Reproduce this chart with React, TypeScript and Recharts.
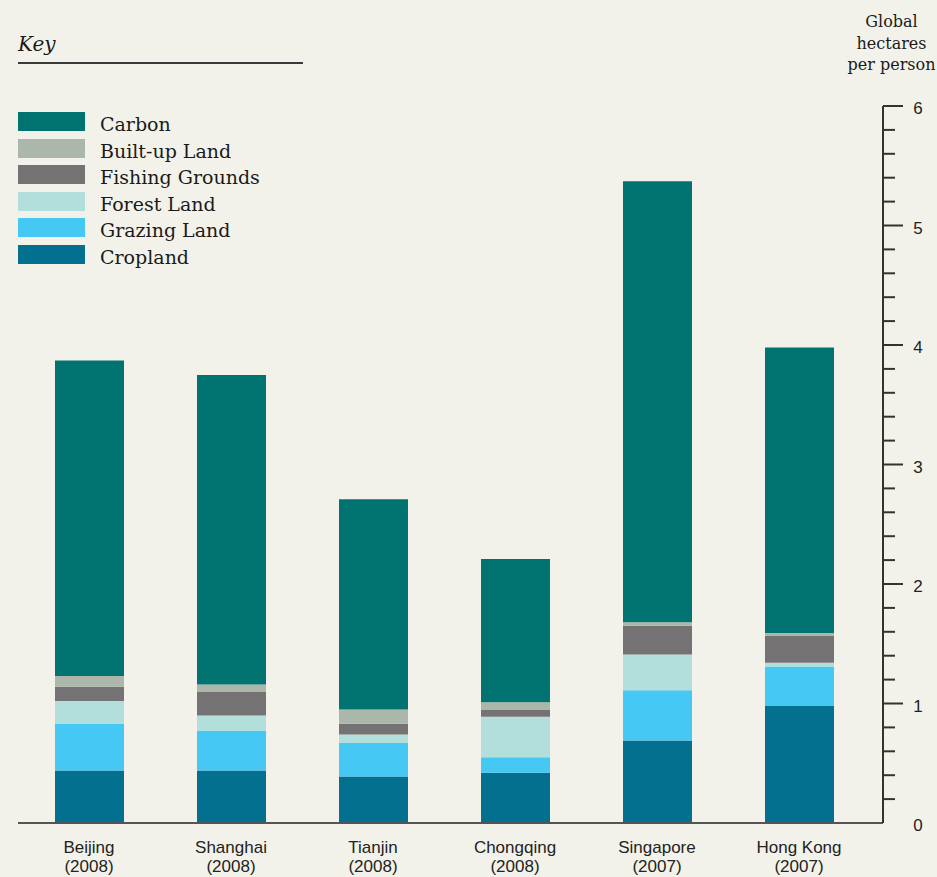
import React from 'react';
import { BarChart, Bar, XAxis, YAxis, Legend } from 'recharts';

const cities = ['Beijing', 'Shanghai', 'Tianjin', 'Chongqing', 'Singapore', 'Hong Kong'];
const years = ['(2008)', '(2008)', '(2008)', '(2008)', '(2007)', '(2007)'];

// global hectares per person, stacked bottom to top
const cropland = [0.44, 0.44, 0.39, 0.42, 0.69, 0.98];
const grazingLand = [0.39, 0.33, 0.28, 0.13, 0.42, 0.33];
const forestLand = [0.19, 0.13, 0.07, 0.34, 0.30, 0.03];
const fishingGrounds = [0.12, 0.20, 0.09, 0.06, 0.24, 0.23];
const builtUpLand = [0.09, 0.06, 0.12, 0.06, 0.03, 0.02];
const carbon = [2.64, 2.59, 1.76, 1.20, 3.69, 2.39];

const yTicks = [
  0, 0.2, 0.4, 0.6, 0.8, 1, 1.2, 1.4, 1.6, 1.8, 2, 2.2, 2.4, 2.6, 2.8, 3,
  3.2, 3.4, 3.6, 3.8, 4, 4.2, 4.4, 4.6, 4.8, 5, 5.2, 5.4, 5.6, 5.8, 6,
];

const series = [
  { key: 'cropland', name: 'Cropland', color: '#04708f' },
  { key: 'grazing', name: 'Grazing Land', color: '#46c8f5' },
  { key: 'forest', name: 'Forest Land', color: '#b2dfdc' },
  { key: 'fishing', name: 'Fishing Grounds', color: '#757273' },
  { key: 'builtUp', name: 'Built-up Land', color: '#acb7ab' },
  { key: 'carbon', name: 'Carbon', color: '#017471' },
];

const data = cities.map((city, i) => ({
  name: city,
  year: years[i],
  cropland: cropland[i],
  grazing: grazingLand[i],
  forest: forestLand[i],
  fishing: fishingGrounds[i],
  builtUp: builtUpLand[i],
  carbon: carbon[i],
}));

const BG = '#f3f2ea';
const SERIF = '"DejaVu Serif", serif';
const SANS = '"Liberation Sans", Arial, sans-serif';

const CityTick = (props: any) => {
  const { x, y, payload, index } = props;
  return (
    <text x={x} textAnchor="middle" fontFamily={SANS} fontSize={17} fill="#222">
      <tspan x={x} y={y + 30}>{payload.value}</tspan>
      <tspan x={x} y={y + 49}>{years[index] ?? data[index]?.year}</tspan>
    </text>
  );
};

const ValueTick = (props: any) => {
  const { x, y, payload } = props;
  const v = payload.value;
  const major = Math.abs(v - Math.round(v)) < 1e-6;
  if (v === 0) {
    return (
      <text x={x + 35} y={y + 8} textAnchor="middle" fontFamily={SANS} fontSize={17} fill="#222">0</text>
    );
  }
  return (
    <g>
      <line x1={x} x2={x + (major ? 20 : 12)} y1={y} y2={y} stroke="#333" strokeWidth={2} />
      {major && (
        <text x={x + 35} y={y + 8} textAnchor="middle" fontFamily={SANS} fontSize={17} fill="#222">
          {Math.round(v)}
        </text>
      )}
    </g>
  );
};

const renderKey = () => (
  <div style={{ width: 280 }}>
    {[...series].reverse().map((s) => (
      <div key={s.key} style={{ position: 'relative', height: 26.6 }}>
        <span style={{ position: 'absolute', left: 0, top: 0, width: 67, height: 19, background: s.color }} />
        <span
          style={{
            position: 'absolute', left: 82, top: 3, fontFamily: SERIF, fontSize: 19,
            lineHeight: '19px', whiteSpace: 'nowrap', color: '#1a1a1a',
          }}
        >
          {s.name}
        </span>
      </div>
    ))}
  </div>
);

export default function App() {
  return (
    <div style={{ position: 'absolute', left: 0, top: 0, width: 937, height: 877, background: BG, overflow: 'hidden' }}>
      <div
        style={{
          position: 'absolute', left: 18, top: 34, fontFamily: SERIF, fontStyle: 'italic',
          fontSize: 20, lineHeight: '20px', color: '#1a1a1a',
        }}
      >
        Key
      </div>
      <div style={{ position: 'absolute', left: 18, top: 62, width: 285, height: 1.5, background: '#3a3a3a' }} />
      <div
        style={{
          position: 'absolute', left: 846, top: 11, width: 91, textAlign: 'center', fontFamily: SERIF,
          fontSize: 16, lineHeight: '21.5px', color: '#1a1a1a', whiteSpace: 'nowrap',
        }}
      >
        Global
        <br />
        hectares
        <br />
        per person
      </div>
      <BarChart width={937} height={877} data={data} margin={{ top: 106, right: 0, bottom: 0, left: 18 }}>
        <XAxis
          dataKey="name"
          height={54}
          interval={0}
          tickLine={false}
          tickSize={0}
          tickMargin={0}
          padding={{ left: 0, right: 13 }}
          axisLine={{ stroke: '#555', strokeWidth: 2 }}
          tick={<CityTick />}
        />
        <YAxis
          orientation="right"
          width={54}
          domain={[0, 6]}
          ticks={yTicks}
          interval={0}
          tickLine={false}
          tickSize={0}
          tickMargin={0}
          axisLine={{ stroke: '#333', strokeWidth: 2 }}
          tick={<ValueTick />}
        />
        <Legend
          layout="vertical"
          align="center"
          verticalAlign="middle"
          wrapperStyle={{ top: 112, left: 18 }}
          content={renderKey}
        />
        {series.map((s) => (
          <Bar
            key={s.key}
            dataKey={s.key}
            name={s.name}
            stackId="a"
            fill={s.color}
            barSize={69}
            isAnimationActive={false}
          />
        ))}
      </BarChart>
    </div>
  );
}
